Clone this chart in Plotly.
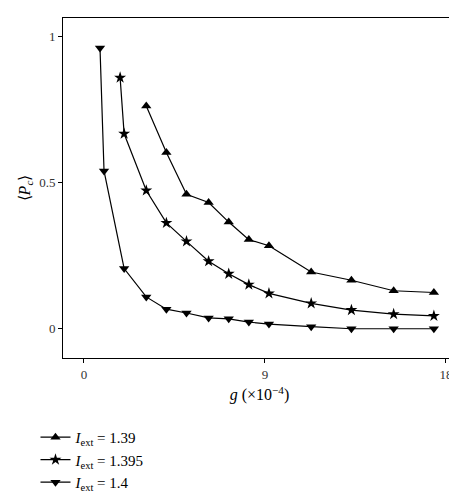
import plotly.graph_objects as go

# data
g_139 = [3.1, 4.1, 5.1, 6.2, 7.2, 8.2, 9.2, 11.3, 13.3, 15.4, 17.4]
p_139 = [0.762, 0.603, 0.46, 0.432, 0.365, 0.305, 0.284, 0.194, 0.166, 0.13, 0.124]

g_1395 = [1.8, 2.0, 3.1, 4.1, 5.1, 6.2, 7.2, 8.2, 9.2, 11.3, 13.3, 15.4, 17.4]
p_1395 = [0.859, 0.667, 0.473, 0.362, 0.299, 0.231, 0.188, 0.151, 0.121, 0.087, 0.064, 0.05, 0.044]

g_14 = [0.8, 1.0, 2.0, 3.1, 4.1, 5.1, 6.2, 7.2, 8.2, 9.2, 11.3, 13.3, 15.4, 17.4]
p_14 = [0.96, 0.54, 0.206, 0.109, 0.067, 0.054, 0.037, 0.034, 0.023, 0.016, 0.007, 0.0, 0.0, 0.0]

series = [
    ("<i>I</i><sub>ext</sub> = 1.39", g_139, p_139, "triangle-up"),
    ("<i>I</i><sub>ext</sub> = 1.395", g_1395, p_1395, "star"),
    ("<i>I</i><sub>ext</sub> = 1.4", g_14, p_14, "triangle-down"),
]

FONT = "Liberation Serif"

fig = go.Figure()
for name, x, y, sym in series:
    fig.add_trace(go.Scatter(
        x=x, y=y, name=name, mode="lines+markers",
        line=dict(color="black", width=1.2),
        marker=dict(symbol=sym, size=9, color="black"),
    ))

axis = dict(
    showline=True, linecolor="black", linewidth=1, mirror=True,
    ticks="outside", ticklen=4, tickcolor="black",
    showgrid=False, zeroline=False, automargin=False,
    tickfont=dict(family=FONT, size=13, color="#333"),
)

fig.update_layout(
    width=457, height=500,
    plot_bgcolor="white", paper_bgcolor="white",
    margin=dict(l=55, r=9, t=10, b=123),
    font=dict(family=FONT, size=13, color="black"),
    xaxis=dict(axis, range=[-1.04, 18.5], tickvals=[0, 9, 18],
               title=dict(text="<i>g</i> (×10<sup>−4</sup>)", standoff=8)),
    yaxis=dict(axis, range=[-0.1, 1.063], tickvals=[0, 0.5, 1],
               title=dict(text="⟨<i>P</i><sub><i>c</i></sub>⟩", standoff=4)),
    legend=dict(x=-0.07, y=-0.185, xanchor="left", yanchor="top",
                bgcolor="rgba(0,0,0,0)", tracegroupgap=0,
                font=dict(family=FONT, size=15)),
)

fig.write_html("out.html")
